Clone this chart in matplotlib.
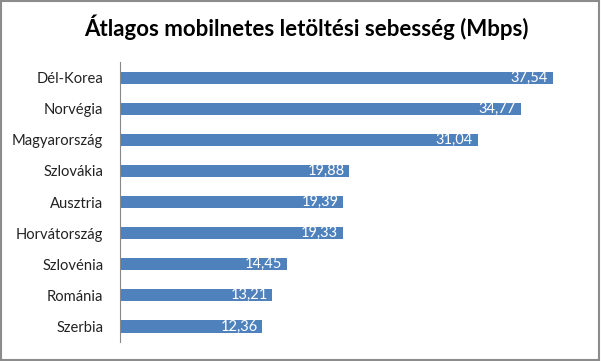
import matplotlib
matplotlib.use("Agg")
import matplotlib.pyplot as plt
from matplotlib.patches import Rectangle

# adatok
orszagok = ["Dél-Korea", "Norvégia", "Magyarország", "Szlovákia", "Ausztria",
            "Horvátország", "Szlovénia", "Románia", "Szerbia"]
sebesseg = [37.54, 34.77, 31.04, 19.88, 19.39, 19.33, 14.45, 13.21, 12.36]
cimkek = ["37,54", "34,77", "31,04", "19,88", "19,39", "19,33", "14,45", "13,21", "12,36"]

plt.rcParams['font.family'] = ['Lato', 'DejaVu Sans']

fig = plt.figure(figsize=(6.01, 3.61), dpi=100)
ax = fig.add_axes([0.1997, 0.0526, 0.767, 0.7756])

y = list(range(len(orszagok)))
bars = ax.barh(y, sebesseg, height=0.39, color="#4F81BD")
ax.set_ylim(len(orszagok) - 0.5, -0.5)
ax.set_xlim(0, 40)

for b, c in zip(bars, cimkek):
    ax.text(b.get_width() - 0.4, b.get_y() + b.get_height() / 2, c,
            ha="right", va="center", color="white", fontsize=10.5)

ax.set_yticks(y)
ax.set_yticklabels(orszagok, fontsize=10.6, color="#222222")
ax.tick_params(axis="y", length=0, pad=12)
ax.set_xticks([])
for s in ["top", "right", "bottom"]:
    ax.spines[s].set_visible(False)
ax.spines["left"].set_color("#888888")

fig.text(0.51, 0.925, "Átlagos mobilnetes letöltési sebesség (Mbps)",
         ha="center", va="center", fontsize=16, fontweight="bold")

# keret
fig.patches.append(Rectangle((0.002, 0.003), 0.995, 0.993, transform=fig.transFigure,
                             fill=False, edgecolor="#8c8c8c", linewidth=1.5))

fig.savefig("out.png", dpi=100)
